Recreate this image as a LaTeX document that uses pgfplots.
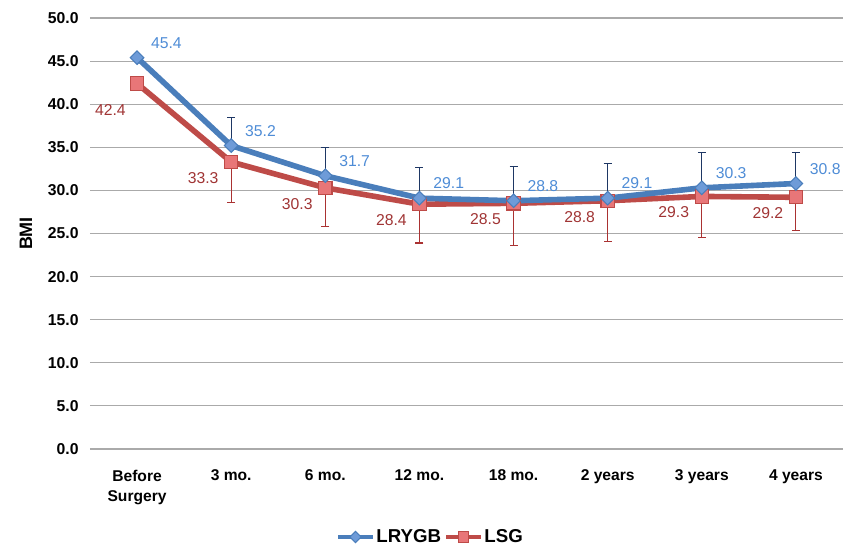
\documentclass[border=0pt]{standalone}
\usepackage{pgfplots}
\pgfplotsset{compat=1.18}
\usepackage{fontspec}
\setmainfont{Liberation Sans}
\definecolor{bline}{RGB}{74,126,187}
\definecolor{bfill}{RGB}{110,155,216}
\definecolor{blab}{RGB}{78,140,214}
\definecolor{berr}{RGB}{30,55,100}
\definecolor{rline}{RGB}{190,75,72}
\definecolor{rfill}{RGB}{232,118,120}
\definecolor{rlab}{RGB}{160,52,52}
\definecolor{rerr}{RGB}{170,50,50}
\definecolor{gridc}{RGB}{170,170,170}
\pgfplotstableread{
x y e
0 45.4 0
1 35.2 3.3
2 31.7 3.3
3 29.1 3.6
4 28.8 3.95
5 29.1 4.0
6 30.3 4.1
7 30.8 3.65
}\lrygb
\pgfplotstableread{
x y e
0 42.4 0
1 33.3 4.65
2 30.3 4.5
3 28.4 4.5
4 28.5 4.9
5 28.8 4.7
6 29.3 4.8
7 29.2 3.8
}\lsg
\begin{document}
\begin{tikzpicture}
\useasboundingbox (-67.5pt,-73.5pt) rectangle (566.25pt,336.75pt);
\begin{axis}[
  at={(0,0)}, anchor=south west,
  scale only axis, width=564.75pt, height=323.25pt,
  xmin=-0.5, xmax=7.5, ymin=0, ymax=50,
  ytick={0,5,10,15,20,25,30,35,40,45,50},
  xtick={0,...,7},
  xticklabels={{Before\\Surgery},{3 mo.},{6 mo.},{12 mo.},{18 mo.},{2 years},{3 years},{4 years}},
  /pgf/number format/.cd, fixed, fixed zerofill, precision=1, assume math mode=true,
  /pgfplots/.cd,
  axis line style={draw=none},
  tick style={draw=none},
  ymajorgrids, grid style={gridc, line width=0.8pt},
  yticklabel style={font=\bfseries\fontsize{11.8}{13}\selectfont, xshift=-5pt},
  xticklabel style={font=\bfseries\fontsize{11.7}{15}\selectfont, align=center, yshift=-12pt},
  ylabel={BMI}, ylabel style={font=\bfseries\fontsize{13.5}{15}\selectfont, yshift=5pt},
  clip=false,
]
\addplot[rline, line width=4.2pt, mark=square*,
  mark options={draw=rline, fill=rfill, line width=0.8pt, mark size=5pt},
  error bars/.cd, y dir=minus, y explicit,
  error bar style={draw=rerr, line width=0.8pt},
  error mark options={draw=rerr, line width=0.8pt, mark size=3pt, rotate=90},
  ] table[x=x, y=y, y error=e] {\lsg};
\addplot[bline, line width=4.2pt, mark=square*,
  mark options={draw=bline, fill=bfill, line width=0.8pt, mark size=3.6pt, rotate=45},
  error bars/.cd, y dir=plus, y explicit,
  error bar style={draw=berr, line width=0.8pt},
  error mark options={draw=berr, line width=0.8pt, mark size=3pt, rotate=90},
  ] table[x=x, y=y, y error=e] {\lrygb};
\addplot[draw=none, mark=none, nodes near coords,
  nodes near coords style={font=\fontsize{11.8}{13}\selectfont, text=blab, anchor=west, xshift=7pt, yshift=11pt}]
  table[x=x, y=y] {\lrygb};
\addplot[draw=none, mark=none, nodes near coords,
  nodes near coords style={font=\fontsize{11.8}{13}\selectfont, text=rlab, anchor=east, xshift=-5pt, yshift=-20pt}]
  table[x=x, y=y] {
x y
0 42.4
};
\addplot[draw=none, mark=none, nodes near coords,
  nodes near coords style={font=\fontsize{11.8}{13}\selectfont, text=rlab, anchor=east, xshift=-6pt, yshift=-12pt}]
  table[x=x, y=y] {
x y
1 33.3
2 30.3
3 28.4
4 28.5
5 28.8
6 29.3
7 29.2
};
\end{axis}
\begin{axis}[
  at={(0,0)}, anchor=south west,
  scale only axis, width=564.75pt, height=323.25pt,
  xmin=-0.5, xmax=7.5, ymin=0, ymax=50,
  hide axis,
  legend style={at={(0.4515,-0.204)}, anchor=center, draw=none, fill=none,
    legend columns=2, font=\bfseries\fontsize{14}{16}\selectfont,
    inner sep=0pt,
    nodes={inner xsep=1pt},
    /tikz/every even column/.append style={column sep=1pt}},
  legend image code/.code={\draw[mark repeat=2,mark phase=2] plot coordinates {(0pt,0pt)(13pt,0pt)(26pt,0pt)};},
]
\addplot[bline, line width=3.5pt, mark=square*,
  mark options={draw=bline, fill=bfill, line width=0.8pt, mark size=3pt, rotate=45}] coordinates {(-10,-10)};
\addplot[rline, line width=3.5pt, mark=square*,
  mark options={draw=rline, fill=rfill, line width=0.8pt, mark size=4pt}] coordinates {(-10,-10)};
\legend{LRYGB, LSG}
\end{axis}
\end{tikzpicture}
\end{document}
